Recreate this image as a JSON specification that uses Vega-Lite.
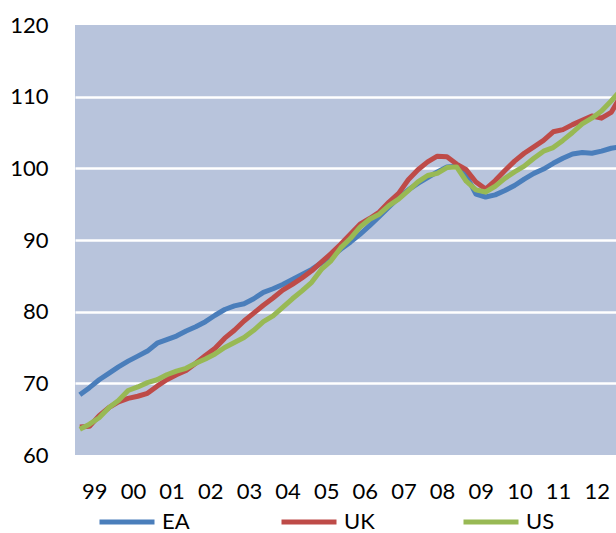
{
  "$schema": "https://vega.github.io/schema/vega-lite/v6.json",
  "autosize": {"type": "none"},
  "padding": {"left": 75, "top": 25, "right": 0, "bottom": 78},
  "width": 541,
  "height": 430,
  "background": "white",
  "config": {
    "view": {"fill": "#B8C4DC", "stroke": null},
    "font": "Lato",
    "axis": {"labelFont": "Lato", "labelFontSize": 22, "labelColor": "#000000", "domain": false, "ticks": false, "title": null}
  },
  "data": {
    "values": [
      {"t": 1999.125, "EA": 68.4, "UK": 63.9, "US": 63.6},
      {"t": 1999.375, "EA": 69.4, "UK": 64.0, "US": 64.3},
      {"t": 1999.625, "EA": 70.5, "UK": 65.5, "US": 65.2},
      {"t": 1999.875, "EA": 71.4, "UK": 66.6, "US": 66.6},
      {"t": 2000.125, "EA": 72.3, "UK": 67.4, "US": 67.6},
      {"t": 2000.375, "EA": 73.1, "UK": 67.9, "US": 69.0},
      {"t": 2000.625, "EA": 73.8, "UK": 68.2, "US": 69.5},
      {"t": 2000.875, "EA": 74.5, "UK": 68.6, "US": 70.1},
      {"t": 2001.125, "EA": 75.6, "UK": 69.6, "US": 70.5},
      {"t": 2001.375, "EA": 76.1, "UK": 70.5, "US": 71.2},
      {"t": 2001.625, "EA": 76.6, "UK": 71.2, "US": 71.7},
      {"t": 2001.875, "EA": 77.3, "UK": 71.8, "US": 72.1},
      {"t": 2002.125, "EA": 77.9, "UK": 72.8, "US": 72.8},
      {"t": 2002.375, "EA": 78.6, "UK": 73.9, "US": 73.4},
      {"t": 2002.625, "EA": 79.5, "UK": 74.9, "US": 74.1},
      {"t": 2002.875, "EA": 80.3, "UK": 76.3, "US": 75.0},
      {"t": 2003.125, "EA": 80.8, "UK": 77.4, "US": 75.7},
      {"t": 2003.375, "EA": 81.1, "UK": 78.7, "US": 76.4},
      {"t": 2003.625, "EA": 81.8, "UK": 79.8, "US": 77.4},
      {"t": 2003.875, "EA": 82.7, "UK": 80.9, "US": 78.6},
      {"t": 2004.125, "EA": 83.2, "UK": 81.9, "US": 79.4},
      {"t": 2004.375, "EA": 83.8, "UK": 83.0, "US": 80.6},
      {"t": 2004.625, "EA": 84.5, "UK": 83.8, "US": 81.8},
      {"t": 2004.875, "EA": 85.2, "UK": 84.7, "US": 82.9},
      {"t": 2005.125, "EA": 85.9, "UK": 85.7, "US": 84.1},
      {"t": 2005.375, "EA": 86.8, "UK": 86.9, "US": 85.9},
      {"t": 2005.625, "EA": 87.6, "UK": 88.1, "US": 87.1},
      {"t": 2005.875, "EA": 88.7, "UK": 89.4, "US": 88.9},
      {"t": 2006.125, "EA": 89.7, "UK": 90.8, "US": 90.2},
      {"t": 2006.375, "EA": 90.8, "UK": 92.2, "US": 91.8},
      {"t": 2006.625, "EA": 92.0, "UK": 93.0, "US": 92.9},
      {"t": 2006.875, "EA": 93.3, "UK": 93.9, "US": 93.6},
      {"t": 2007.125, "EA": 94.6, "UK": 95.3, "US": 94.8},
      {"t": 2007.375, "EA": 95.9, "UK": 96.5, "US": 95.7},
      {"t": 2007.625, "EA": 97.0, "UK": 98.4, "US": 96.9},
      {"t": 2007.875, "EA": 97.9, "UK": 99.8, "US": 98.1},
      {"t": 2008.125, "EA": 98.7, "UK": 100.9, "US": 99.0},
      {"t": 2008.375, "EA": 99.5, "UK": 101.7, "US": 99.3},
      {"t": 2008.625, "EA": 100.2, "UK": 101.6, "US": 100.1},
      {"t": 2008.875, "EA": 100.3, "UK": 100.6, "US": 100.2},
      {"t": 2009.125, "EA": 99.0, "UK": 99.8, "US": 98.2},
      {"t": 2009.375, "EA": 96.4, "UK": 98.1, "US": 97.0},
      {"t": 2009.625, "EA": 96.0, "UK": 97.1, "US": 96.7},
      {"t": 2009.875, "EA": 96.3, "UK": 98.3, "US": 97.5},
      {"t": 2010.125, "EA": 96.9, "UK": 99.7, "US": 98.6},
      {"t": 2010.375, "EA": 97.6, "UK": 101.0, "US": 99.5},
      {"t": 2010.625, "EA": 98.5, "UK": 102.1, "US": 100.3},
      {"t": 2010.875, "EA": 99.3, "UK": 103.0, "US": 101.4},
      {"t": 2011.125, "EA": 99.9, "UK": 103.9, "US": 102.4},
      {"t": 2011.375, "EA": 100.7, "UK": 105.1, "US": 102.9},
      {"t": 2011.625, "EA": 101.4, "UK": 105.4, "US": 103.9},
      {"t": 2011.875, "EA": 102.0, "UK": 106.1, "US": 105.0},
      {"t": 2012.125, "EA": 102.2, "UK": 106.7, "US": 106.2},
      {"t": 2012.375, "EA": 102.1, "UK": 107.3, "US": 107.0},
      {"t": 2012.625, "EA": 102.4, "UK": 107.0, "US": 108.0},
      {"t": 2012.875, "EA": 102.8, "UK": 107.8, "US": 109.4},
      {"t": 2013.125, "EA": 103.0, "UK": 110.1, "US": 110.9}
    ]
  },
  "transform": [{"fold": ["EA", "UK", "US"], "as": ["series", "value"]}],
  "mark": {"type": "line", "strokeWidth": 5, "strokeJoin": "round", "clip": true},
  "encoding": {
    "x": {
      "field": "t",
      "type": "quantitative",
      "scale": {"domain": [1999, 2013], "nice": false, "zero": false},
      "axis": {
        "values": [1999.5, 2000.5, 2001.5, 2002.5, 2003.5, 2004.5, 2005.5, 2006.5, 2007.5, 2008.5, 2009.5, 2010.5, 2011.5, 2012.5],
        "labelExpr": "substring(toString(floor(datum.value)), 2, 4)",
        "grid": false,
        "labelPadding": 26,
        "labelFlush": false,
        "labelOverlap": false
      }
    },
    "y": {
      "field": "value",
      "type": "quantitative",
      "scale": {"domain": [60, 120], "nice": false, "zero": false},
      "axis": {
        "values": [60, 70, 80, 90, 100, 110, 120],
        "grid": true,
        "gridColor": {"condition": {"test": "datum.value == 60 || datum.value == 120", "value": "transparent"}, "value": "#FFFFFF"},
        "gridWidth": 2.5,
        "gridOpacity": 1,
        "labelPadding": 27,
        "labelFlush": false
      }
    },
    "color": {
      "field": "series",
      "type": "nominal",
      "scale": {"domain": ["EA", "UK", "US"], "range": ["#4A7EBB", "#BE4B48", "#98B954"]},
      "legend": {
        "title": null,
        "orient": "none",
        "direction": "horizontal",
        "legendX": 22,
        "legendY": 467,
        "padding": 0,
        "symbolType": "stroke",
        "symbolSize": 3025,
        "symbolStrokeWidth": 5,
        "labelFont": "Lato",
        "labelFontSize": 22,
        "labelColor": "#000000",
        "labelOffset": 5,
        "gridAlign": "all",
        "columnPadding": 78
      }
    }
  }
}
